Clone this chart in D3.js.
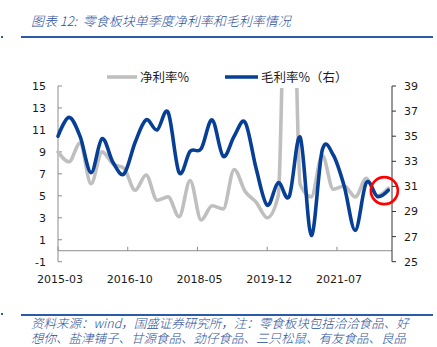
<!DOCTYPE html>
<html>
<head>
<meta charset="utf-8">
<script src="https://cdn.jsdelivr.net/npm/d3@7"></script>
<style>
  html, body { margin: 0; padding: 0; background: #ffffff; }
  svg { display: block; }
  .cjk { font-family: "Noto Sans CJK SC", "Noto Sans", sans-serif; }
  .num { font-family: "DejaVu Sans", sans-serif; }
</style>
</head>
<body>
<script>
// Quarterly periods (month-end of each quarter)
const periods = [
  "2015-03","2015-06","2015-09","2015-12",
  "2016-03","2016-06","2016-09","2016-12",
  "2017-03","2017-06","2017-09","2017-12",
  "2018-03","2018-06","2018-09","2018-12",
  "2019-03","2019-06","2019-09","2019-12",
  "2020-03","2020-06","2020-09","2020-12",
  "2021-03","2021-06","2021-09","2021-12",
  "2022-03","2022-06","2022-09"
];

// 净利率 (%) — left axis
const netMargin = [
  9.0, 8.1, 9.8, 6.1, 9.0, 7.9, 7.5, 5.5,
  6.9, 4.6, 4.9, 3.1, 6.4, 2.8, 4.1, 3.8,
  7.4, 5.4, 4.4, 3.0, 5.0, 42.0, 6.0, 4.9,
  8.7, 5.6, 5.9, 4.9, 6.6, 5.0, 5.7
];

// 毛利率 (%) — right axis
const grossMargin = [
  35.0, 36.5, 35.0, 32.1, 34.8, 32.9, 32.0, 34.5,
  36.3, 35.5, 36.9, 32.1, 33.8, 34.0, 36.3, 33.4,
  35.0, 36.1, 32.4, 29.5, 31.3, 30.2, 34.9, 27.1,
  33.9, 33.5, 31.0, 27.5, 31.3, 30.2, 30.7
];

const leftTicks = [-1, 1, 3, 5, 7, 9, 11, 13, 15];
const rightTicks = [25, 27, 29, 31, 33, 35, 37, 39];
const xTickLabels = ["2015-03", "2016-10", "2018-05", "2019-12", "2021-07"];

const legendLabels = ["净利率%", "毛利率%（右）"];
const titleText = "图表 12:  零食板块单季度净利率和毛利率情况";
const sourceLines = [
  "资料来源：wind，国盛证券研究所，注：零食板块包括洽洽食品、好",
  "想你、盐津铺子、甘源食品、劲仔食品、三只松鼠、有友食品、良品"
];

const W = 437, H = 347;
const plot = { left: 58, right: 392, top: 86, bottom: 261.7 };

// month offset of each period from the first one
const monthIndex = s => {
  const [y, m] = s.split("-").map(Number);
  const [y0, m0] = periods[0].split("-").map(Number);
  return (y - y0) * 12 + (m - m0);
};

const x = d3.scaleLinear().domain([0, 91]).range([plot.left, plot.right]);
const yL = d3.scaleLinear().domain([-1, 15]).range([plot.bottom, plot.top]);
const yR = d3.scaleLinear().domain([25, 39]).range([plot.bottom, plot.top]);

const svg = d3.select("body").append("svg")
  .attr("width", W).attr("height", H);

const navy = "#2a4f9e";
const grayLine = "#bfbfbf";
const blueLine = "#073f96";
const ruleBlue = "#2a5aa8";

// Title and rules
svg.append("text").attr("class", "cjk")
  .attr("x", 31).attr("y", 26)
  .attr("font-size", 13).attr("font-style", "italic").attr("font-weight", 300)
  .attr("fill", navy)
  .attr("xml:space", "preserve")
  .text(titleText);

svg.append("line").attr("x1", 21).attr("x2", 433).attr("y1", 37).attr("y2", 37)
  .attr("stroke", ruleBlue).attr("stroke-width", 2);
svg.append("line").attr("x1", 21).attr("x2", 433).attr("y1", 315).attr("y2", 315)
  .attr("stroke", ruleBlue).attr("stroke-width", 2);
svg.append("rect").attr("x", 1).attr("y", 36).attr("width", 2).attr("height", 2).attr("fill", ruleBlue);
svg.append("rect").attr("x", 1).attr("y", 313).attr("width", 2).attr("height", 2).attr("fill", ruleBlue);

// Source note (two lines in one text block)
const note = svg.append("text").attr("class", "cjk")
  .attr("font-size", 12.5).attr("font-style", "italic").attr("font-weight", 300)
  .attr("fill", "#2a4f9a");
sourceLines.forEach((t, i) => {
  note.append("tspan").attr("x", 31).attr("y", 328 + i * 15).text(t);
});

// Zero line (category axis)
svg.append("line")
  .attr("x1", plot.left).attr("x2", plot.right)
  .attr("y1", yL(0)).attr("y2", yL(0))
  .attr("stroke", "#8c8c8c").attr("stroke-width", 1);

// x ticks on the zero line, every 19 months
xTickLabels.forEach(lbl => {
  const xi = x(monthIndex(lbl));
  svg.append("line")
    .attr("x1", xi).attr("x2", xi)
    .attr("y1", yL(0)).attr("y2", yL(0) - 4)
    .attr("stroke", "#8c8c8c");
  svg.append("text").attr("class", "num")
    .attr("x", xi + 2).attr("y", 283)
    .attr("text-anchor", "middle")
    .attr("font-size", 11).attr("fill", "#1a1a1a")
    .text(lbl);
});

// Left axis
const gL = svg.append("g").attr("transform", `translate(${plot.left},0)`);
gL.append("line").attr("x1", 0).attr("x2", 0)
  .attr("y1", plot.top).attr("y2", plot.bottom)
  .attr("stroke", "#8c8c8c");
leftTicks.forEach(v => {
  gL.append("line").attr("x1", 0).attr("x2", 4)
    .attr("y1", yL(v)).attr("y2", yL(v)).attr("stroke", "#8c8c8c");
  gL.append("text").attr("class", "num")
    .attr("x", -12).attr("y", yL(v)).attr("dy", "0.36em")
    .attr("text-anchor", "end").attr("font-size", 11).attr("fill", "#1a1a1a")
    .text(v);
});

// Right axis
const gR = svg.append("g").attr("transform", `translate(${plot.right},0)`);
gR.append("line").attr("x1", 0).attr("x2", 0)
  .attr("y1", plot.top).attr("y2", plot.bottom)
  .attr("stroke", "#333333");
rightTicks.forEach(v => {
  gR.append("line").attr("x1", 0).attr("x2", 4)
    .attr("y1", yR(v)).attr("y2", yR(v)).attr("stroke", "#333333");
  gR.append("text").attr("class", "num")
    .attr("x", 12).attr("y", yR(v)).attr("dy", "0.36em")
    .attr("text-anchor", "start").attr("font-size", 11).attr("fill", "#1a1a1a")
    .text(v);
});

// Clip lines to the plot area
svg.append("defs").append("clipPath").attr("id", "plotClip")
  .append("rect")
  .attr("x", plot.left - 4).attr("y", plot.top + 2)
  .attr("width", plot.right - plot.left + 8)
  .attr("height", plot.bottom - plot.top + 6);

// Smoothed lines: monotone for the net margin so the one-off spike does not
// drag neighbouring quarters below their values; plain Catmull-Rom for gross margin
const netLine = d3.line()
  .x((d, i) => x(monthIndex(periods[i])))
  .y(d => yL(d))
  .curve(d3.curveMonotoneX);

const grossLine = d3.line()
  .x((d, i) => x(monthIndex(periods[i])))
  .y(d => yR(d))
  .curve(d3.curveCardinal.tension(0));

const gLines = svg.append("g").attr("clip-path", "url(#plotClip)");
gLines.append("path").datum(netMargin)
  .attr("d", netLine).attr("fill", "none")
  .attr("stroke", grayLine).attr("stroke-width", 3.6)
  .attr("stroke-linejoin", "round").attr("stroke-linecap", "round");
gLines.append("path").datum(grossMargin)
  .attr("d", grossLine).attr("fill", "none")
  .attr("stroke", blueLine).attr("stroke-width", 3.6)
  .attr("stroke-linejoin", "round").attr("stroke-linecap", "round");

// Legend
const legend = [
  { x1: 107, x2: 137, color: grayLine, label: legendLabels[0] },
  { x1: 225, x2: 258, color: blueLine, label: legendLabels[1] }
];
legend.forEach(l => {
  svg.append("line").attr("x1", l.x1).attr("x2", l.x2)
    .attr("y1", 77).attr("y2", 77)
    .attr("stroke", l.color).attr("stroke-width", 3.6);
  svg.append("text").attr("class", "cjk")
    .attr("x", l.x2 + 3).attr("y", 77).attr("dy", "0.36em")
    .attr("font-size", 12.5).attr("fill", "#1a1a1a")
    .text(l.label);
});

// Highlight ring on the latest quarters
const last = grossMargin.length - 1;
svg.append("circle")
  .attr("cx", x(monthIndex(periods[last])) - 4)
  .attr("cy", yR(grossMargin[last]) + 0.5)
  .attr("r", 13.5)
  .attr("fill", "none").attr("stroke", "#ff0000").attr("stroke-width", 2.6);
</script>
</body>
</html>
